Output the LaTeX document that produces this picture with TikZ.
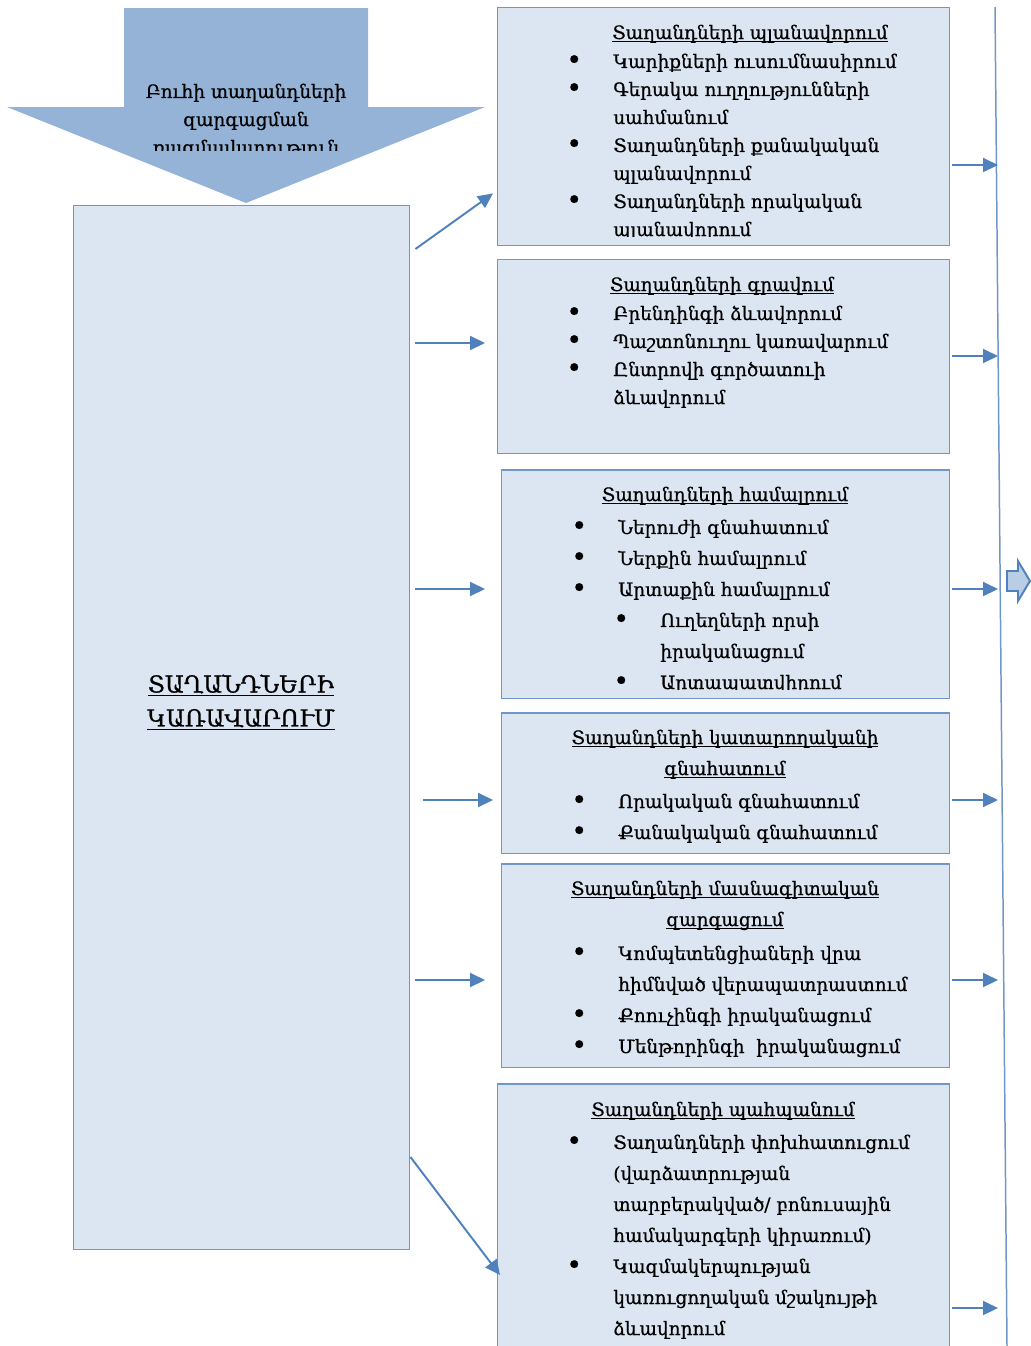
\documentclass[tikz,border=0pt]{standalone}
\usepackage{fontspec}
\setmainfont{DejaVu Serif}[RawFeature={embolden=0.7}]
\usetikzlibrary{arrows.meta}
\definecolor{boxfill}{HTML}{DCE6F2}
\definecolor{boxline}{HTML}{7396C9}
\definecolor{arrowblue}{HTML}{4F81BD}
\definecolor{bigarrow}{HTML}{95B3D7}
\definecolor{tabfill}{HTML}{B9CDE5}
\newcommand{\itm}{\llap{\makebox[0.94cm][l]{\raisebox{-0.6pt}{\scalebox{1.45}{\textbullet}}}}}
\newcommand{\uln}[1]{\setbox0\hbox{#1}\rlap{\rule[-1.8pt]{\wd0}{0.55pt}}\box0}
\begin{document}
\begin{tikzpicture}[x=0.02cm, y=-0.02cm,
    box/.style={draw=boxline, fill=boxfill, line width=0.85pt, inner sep=0, anchor=north west},
    head/.style={inner sep=0, align=center, anchor=base, font=\fontsize{10.5}{17.65}\selectfont},
    lst/.style={inner sep=0, align=left, anchor=base west, font=\fontsize{10.5}{17.65}\selectfont},
    arr/.style={draw=arrowblue, line width=1.1pt, -{Triangle[length=0.3cm,width=0.28cm]}}]
    \useasboundingbox (0,0) rectangle (1031,1346);
    \clip (0,0) rectangle (1031,1346);
    % big arrow on top
    \fill[bigarrow] (124,8) -- (368,8) -- (368,107) -- (485,107) -- (246,203) -- (7,107) -- (124,107) -- cycle;
    \begin{scope}
        \clip (0,0) rectangle (500,150);
        \node[head, font=\fontsize{10.5}{15.94}\selectfont] (strat) at (246,154) {Բուհի տաղանդների\\զարգացման\\ռազմավարություն};
    \end{scope}
    % main box
    \node[box, minimum width=6.72cm, minimum height=20.88cm] (L) at (73,205) {};
    \node[align=center, inner sep=0, font=\fontsize{13.3}{19.3}\selectfont] (Lt) at (241,702) {\uln{ՏԱՂԱՆԴՆԵՐԻ}\\\uln{ԿԱՌԱՎԱՐՈՒՄ}};
    % boxes on the right
    \node[box, minimum width=9.04cm, minimum height=4.76cm] (B1) at (497,7) {};
    \node[box, minimum width=9.04cm, minimum height=3.88cm] (B2) at (497,259) {};
    \node[box, minimum width=8.96cm, minimum height=4.58cm] (B3) at (501,469) {};
    \node[box, minimum width=8.96cm, minimum height=2.82cm] (B4) at (501,712) {};
    \node[box, minimum width=8.96cm, minimum height=4.08cm] (B5) at (501,863) {};
    \node[box, minimum width=9.04cm, minimum height=5.60cm] (B6) at (497,1083) {};
    % texts (base = last line)
    \node[head] (h1) at (750,39) {\uln{Տաղանդների պլանավորում}};
    \begin{scope}
        \clip (497,7) rectangle (949,236);
        \node[lst, font=\fontsize{10.5}{15.94}\selectfont] (l1) at (613,236) {\itm Կարիքների ուսումնասիրում\\\itm Գերակա ուղղությունների\\սահմանում\\\itm Տաղանդների քանակական\\պլանավորում\\\itm Տաղանդների որակական\\պլանավորում};
    \end{scope}
    \node[head] (h2) at (722,291) {\uln{Տաղանդների գրավում}};
    \node[lst, font=\fontsize{10.5}{15.94}\selectfont] (l2) at (613,404) {\itm Բրենդինգի ձևավորում\\\itm Պաշտոնուղու կառավարում\\\itm Ընտրովի գործատուի\\ձևավորում};
    \node[head] (h3) at (725,501) {\uln{Տաղանդների համալրում}};
    \begin{scope}
        \clip (501,469) rectangle (949,689);
        \node[lst] (l3) at (618,689) {\itm Ներուժի գնահատում\\\itm Ներքին համալրում\\\itm Արտաքին համալրում\\\hspace*{0.84cm}\itm Ուղեղների որսի\\\hspace*{0.84cm}իրականացում\\\hspace*{0.84cm}\itm Արտապատվիրում};
    \end{scope}
    \node[head] (h4) at (725,775) {\uln{Տաղանդների կատարողականի}\\\uln{գնահատում}};
    \node[lst] (l4) at (618,839) {\itm Որակական գնահատում\\\itm Քանակական գնահատում};
    \node[head] (h5) at (725,926) {\uln{Տաղանդների մասնագիտական}\\\uln{զարգացում}};
    \node[lst] (l5) at (618,1053) {\itm Կոմպետենցիաների վրա\\հիմնված վերապատրաստում\\\itm Քոուչինգի իրականացում\\\itm Մենթորինգի\ \ իրականացում};
    \node[head] (h6) at (723,1116) {\uln{Տաղանդների պահպանում}};
    \node[lst] (l6) at (613,1335) {\itm Տաղանդների փոխհատուցում\\(վարձատրության\\տարբերակված/ բոնուսային\\համակարգերի կիրառում)\\\itm Կազմակերպության\\կառուցողական մշակույթի\\ձևավորում};
    % rail on the right
    \coordinate (vt) at (995,7);
    \coordinate (vb) at (1007,1346);
    \coordinate (rail) at (998,0);
    \draw[boxline, line width=0.85pt] (vt) -- (vb);
    \draw[arrowblue, fill=tabfill, line width=1.1pt] (1007,571) -- (1018,571) -- (1018,561) -- (1030,581) -- (1018,601) -- (1018,591) -- (1007,591) -- cycle;
    % arrows out of the main box
    \draw[arr] ([shift={(5,44)}]L.north east) -- ([shift={(-4,-53)}]B1.south west);
    \draw[arr] ([xshift=0.1cm]L.east |- 0,343) -- ([xshift=-0.24cm]B2.west |- 0,343);
    \draw[arr] ([xshift=0.1cm]L.east |- 0,589) -- ([xshift=-0.32cm]B3.west |- 0,589);
    \draw[arr] ([xshift=0.26cm]L.east |- 0,800) -- ([xshift=-0.16cm]B4.west |- 0,800);
    \draw[arr] ([xshift=0.1cm]L.east |- 0,980) -- ([xshift=-0.32cm]B5.west |- 0,980);
    \draw[arr] (L.east |- 0,1157) -- ([shift={(3,192)}]B6.north west);
    % arrows into the rail
    \foreach \b/\y in {B1/165, B2/356, B3/589, B4/800, B5/980, B6/1308}
        \draw[arr] ([xshift=0.04cm]\b.east |- 0,\y) -- (rail |- 0,\y);
\end{tikzpicture}
\end{document}
